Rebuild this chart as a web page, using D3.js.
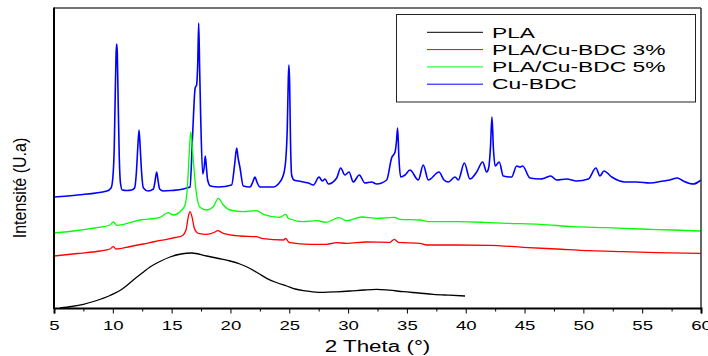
<!DOCTYPE html>
<html><head><meta charset="utf-8">
<script src="https://cdn.jsdelivr.net/npm/d3@7"></script>
<style>
html,body{margin:0;padding:0;background:#fff;}
svg{display:block;font-family:"Liberation Sans",Arial,sans-serif;}
</style></head>
<body>
<svg id="chart" width="708" height="356"></svg>
<script>
// ---- data: [2theta (deg), intensity (a.u.)] ----
const seriesNames = ["PLA", "PLA/Cu-BDC 3%", "PLA/Cu-BDC 5%", "Cu-BDC"];
const seriesColors = ["#000000", "#ff0000", "#00ff00", "#0000ff"];
const xTicksMajor = [5,10,15,20,25,30,35,40,45,50,55,60];
const xTicksMinor = [7.5,12.5,17.5,22.5,27.5,32.5,37.5,42.5,47.5,52.5,57.5];

const pla = [[5.5,0],[6.5,1.5],[7.5,3.7],[8.5,7],[9.76,12.5],[10.8,19],[11.74,28],[12.5,35],[13.16,41],[14.0,46.5],[14.86,51],[15.8,54],[16.7,55],[17.98,52],[19.0,49.5],[19.96,47],[20.8,44],[21.66,39.5],[22.4,34.5],[23.08,29.7],[23.9,25.5],[24.78,22],[25.5,19],[26.2,17.3],[27.0,16.2],[27.9,15.7],[29.0,16.2],[30.16,17],[31.3,18],[32.43,18.7],[33.5,17.8],[34.69,16.3],[36.0,15],[37.24,13.7],[38.6,12.8],[39.94,12]];

const cu3 = [[5,52],[7,54.5],[8.9,57],[9.76,59],[10.04,61.3],[10.27,59],[11.5,61.5],[12.59,64],[13.6,66.5],[14.58,68.7],[15.3,70.5],[15.86,72],[16.22,78],[16.39,89.7],[16.56,96.3],[16.76,89.7],[16.93,79.7],[17.27,74.7],[17.98,73.7],[18.6,75.5],[18.91,77.3],[19.39,74.7],[20.81,72],[22.17,71.3],[22.79,69.3],[24.49,68],[24.69,69.5],[24.92,66.3],[25.06,65.3],[26.76,63.7],[28.17,63.7],[29.03,65.3],[29.88,64.7],[31.58,66],[33.56,65.7],[33.93,68.7],[34.27,65.7],[36.11,64.7],[36.68,63],[39.23,63],[42.06,62.7],[44.89,60.7],[47.73,59],[50.56,57.3],[53.39,56.3],[56.23,55.3],[60,54.7]];

const cu5 = [[5,75],[7,77.5],[8.63,80.3],[9.76,83],[10.04,86],[10.33,82.7],[12.31,88],[14.01,90.7],[14.72,95.3],[15.14,93],[15.86,98],[16.14,103],[16.34,121],[16.5,155],[16.62,176],[16.84,148],[17.04,121],[17.41,100.7],[17.98,98],[18.54,101.3],[18.97,109.7],[19.39,103],[19.96,98],[21.09,96.3],[22.23,97.3],[22.79,93.7],[24.21,90.7],[24.69,93.7],[24.92,89.7],[25.06,89],[26.2,86.3],[27.33,87.3],[28.12,85.7],[29.23,90.3],[29.88,87.3],[31.16,91],[32.43,89.7],[33.93,90.7],[34.41,88.7],[36.11,88],[36.96,86.3],[39.23,86.3],[41.49,85.7],[43.48,84.7],[46.31,83.7],[49.14,81.3],[51.98,80.3],[54.81,79],[57.64,78],[60,77]];

const cuBdc = [[5,111],[7,113],[9.5,117],[9.85,120],[10.0,130],[10.12,160],[10.2,210],[10.28,255],[10.33,264],[10.38,255],[10.45,210],[10.55,150],[10.65,125],[10.8,118],[11.2,117.5],[11.6,118],[11.85,120],[12.0,135],[12.12,160],[12.23,178],[12.33,160],[12.45,135],[12.6,120],[13.0,117],[13.45,119],[13.58,126],[13.73,136],[13.85,127],[13.98,119],[14.3,117],[15.0,117.5],[16.0,119],[16.3,120],[16.56,121],[16.79,175],[17.0,220],[17.12,223],[17.22,245],[17.3,285],[17.38,240],[17.47,191],[17.64,134],[17.76,140],[17.86,152],[17.96,140],[18.06,128],[18.3,122],[19.0,121],[20.1,123],[20.35,143],[20.53,160],[20.65,150],[20.8,141],[21.09,122],[21.66,121],[21.9,126],[22.08,131],[22.25,126],[22.51,121],[23.0,121],[23.64,121],[24.07,124],[24.5,133],[24.7,148],[24.83,180],[24.92,230],[24.97,243],[25.03,225],[25.1,170],[25.2,133],[25.4,128],[25.77,127],[26.62,125],[27.05,123],[27.53,131],[27.81,127],[28.04,129],[28.32,124],[29.03,130],[29.37,140],[29.73,133],[30.08,136],[30.44,126],[30.95,133],[31.43,125],[32.0,126],[32.43,124],[33.28,128],[33.7,150],[33.99,156],[34.1,165],[34.21,180],[34.32,150],[34.47,131],[34.84,133],[35.26,138],[35.97,128],[36.39,143],[36.82,128],[37.73,136],[38.15,128],[38.52,126],[39.09,131],[39.37,128],[39.88,145],[40.36,129],[40.93,136],[41.44,146],[41.78,136],[41.95,140],[42.1,160],[42.23,191],[42.35,160],[42.5,142],[42.85,146],[43.19,132],[43.9,131],[44.33,142],[44.61,141],[44.84,142],[45.46,130],[46.31,129],[46.74,130],[47.22,132],[47.73,128],[48.58,129],[49.43,127],[50.42,129],[51.07,140],[51.41,132],[51.75,137],[52.41,131],[53.54,126],[54.53,126],[55.66,125],[56.8,127],[57.36,128],[57.99,130],[58.5,127],[59.35,124],[60,128]];

const allSeries = [pla, cu3, cu5, cuBdc];

// ---- layout ----
const svg = d3.select("#chart");
const L = 54, R = 701, T = 8, B = 308;
const x = d3.scaleLinear().domain([5, 60]).range([L, R]);
const y = d3.scaleLinear().domain([0, 300]).range([B, T]);

const line = d3.line().x(d => x(d[0])).y(d => y(d[1])).curve(d3.curveMonotoneX);

// curves
const drawOrder = [3, 2, 1, 0];
drawOrder.forEach(i => {
  svg.append("path")
    .datum(allSeries[i])
    .attr("fill", "none")
    .attr("stroke", seriesColors[i])
    .attr("stroke-width", i === 3 ? 1.6 : 1.3)
    .attr("stroke-linejoin", "round")
    .attr("d", line);
});

// frame: top & right
svg.append("line").attr("x1", L).attr("x2", R).attr("y1", T).attr("y2", T)
  .attr("stroke", "#444").attr("stroke-width", 1.5);
svg.append("line").attr("x1", R).attr("x2", R).attr("y1", T).attr("y2", B)
  .attr("stroke", "#333").attr("stroke-width", 1.5);
// left axis
svg.append("line").attr("x1", L).attr("x2", L).attr("y1", T - 0.5).attr("y2", B + 1)
  .attr("stroke", "#000").attr("stroke-width", 2);

// x axis minor ticks
const gMinor = svg.append("g").attr("transform", `translate(0,${B})`)
  .call(d3.axisBottom(x).tickValues(xTicksMinor).tickSize(3.5).tickFormat(""));
gMinor.select(".domain").remove();
gMinor.selectAll("line").attr("stroke", "#000").attr("stroke-width", 1);

// x axis major
const gx = svg.append("g").attr("transform", `translate(0,${B})`)
  .call(d3.axisBottom(x).tickValues(xTicksMajor).tickSize(5.5).tickPadding(7.5).tickFormat(d3.format("d")));
gx.select(".domain").attr("stroke", "#000").attr("stroke-width", 2);
gx.selectAll(".tick line").attr("stroke", "#000").attr("stroke-width", 1);
gx.selectAll(".tick text")
  .attr("font-family", "'Liberation Sans', Arial, sans-serif")
  .attr("font-size", 12)
  .attr("fill", "#000")
  .attr("transform", "scale(1.55,1)");

// axis titles
svg.append("g").attr("transform", `translate(${(L + R) / 2},352) scale(1.4,1)`)
  .append("text").attr("text-anchor", "middle").attr("font-size", 16).attr("fill", "#000")
  .text("2 Theta (°)");
svg.append("g").attr("transform", "translate(26,188) scale(1.15,1) rotate(-90)")
  .append("text")
  .attr("text-anchor", "middle").attr("font-size", 16).attr("fill", "#000")
  .text("Intensité (U.a)");

// legend
const lg = svg.append("g");
lg.append("rect").attr("x", 396.5).attr("y", 14.5).attr("width", 299).attr("height", 87.5)
  .attr("fill", "#fff").attr("stroke", "#222").attr("stroke-width", 1);
seriesNames.forEach((name, i) => {
  const cy = 32.3 + i * 17.3;
  lg.append("line").attr("x1", 427).attr("x2", 483).attr("y1", cy).attr("y2", cy)
    .attr("stroke", seriesColors[i]).attr("stroke-width", 1);
  lg.append("g").attr("transform", `translate(492,${cy + 5.2}) scale(1.52,1)`)
    .append("text").attr("font-size", 15).attr("fill", "#000").text(name);
});
</script>
</body></html>
